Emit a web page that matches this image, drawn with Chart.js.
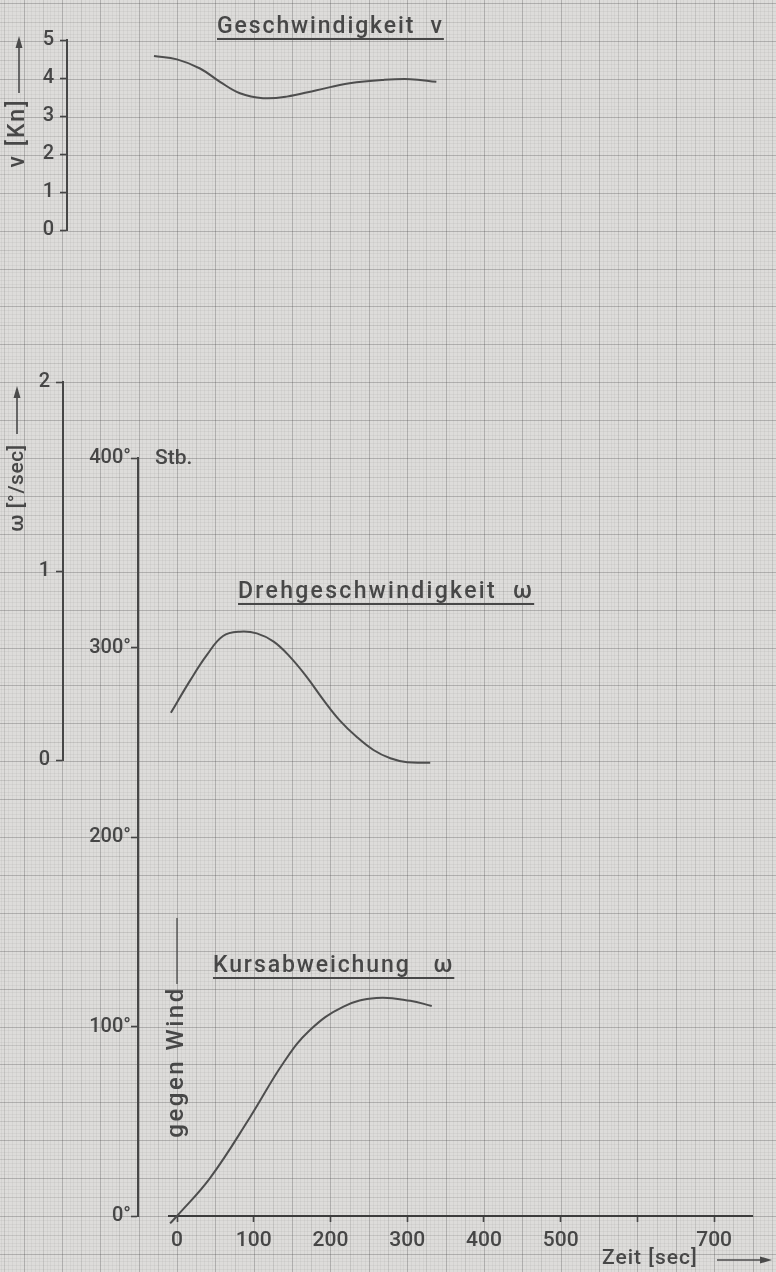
<!DOCTYPE html>
<html lang="de">
<head>
<meta charset="utf-8">
<title>Geschwindigkeit, Drehgeschwindigkeit, Kursabweichung</title>
<script src="https://cdn.jsdelivr.net/npm/chart.js@4.4.1/dist/chart.umd.min.js"></script>
<style>
	html, body { margin: 0; padding: 0; background: #dddcda; }
	#sheet { position: relative; width: 776px; height: 1272px; overflow: hidden; }
	#plot { position: absolute; left: 0; top: 0; }
	#marks { position: absolute; left: 0; top: 0; pointer-events: none; }
	.lbl {
		position: absolute;
		font-family: Roboto, "DejaVu Sans", sans-serif;
		font-weight: 500;
		color: #474747;
		white-space: nowrap;
		line-height: 1;
	}
	.title {
		font-size: 23px;
		letter-spacing: 1.6px;
		text-decoration: underline;
		text-decoration-thickness: 2px;
		text-underline-offset: 5px;
	}
	.rot { transform: translate(-50%, -50%) rotate(-90deg); }
</style>
</head>
<body>
<div id="sheet">
	<canvas id="plot" width="776" height="1272"></canvas>

	<svg id="marks" width="776" height="1272">
		<g stroke="#4a4a4a" stroke-width="1.6" fill="#4a4a4a">
			<line x1="19" y1="93" x2="19" y2="46" />
			<path d="M19 36 L15.5 48 L22.5 48 Z" stroke="none" />
			<line x1="17" y1="434" x2="17" y2="396" />
			<path d="M17 386 L13.5 398 L20.5 398 Z" stroke="none" />
			<line x1="717" y1="1260" x2="762" y2="1260" />
			<path d="M772 1260 L760 1256.5 L760 1263.5 Z" stroke="none" />
			<line x1="177" y1="918" x2="177" y2="984" stroke-width="1.3" />
		</g>
	</svg>

	<div class="lbl title" style="left:217px; top:14px; letter-spacing:1.9px;">Geschwindigkeit&nbsp; v</div>
	<div class="lbl title" style="left:238px; top:579px; letter-spacing:2.3px;">Drehgeschwindigkeit&nbsp; ω</div>
	<div class="lbl title" style="left:213px; top:953px; letter-spacing:1.9px;">Kursabweichung&nbsp;&nbsp; ω</div>

	<div class="lbl rot" style="left:16px; top:133px; font-size:23px; letter-spacing:2px;">v [Kn]</div>
	<div class="lbl rot" style="left:16px; top:488px; font-size:21px; letter-spacing:0.5px;">ω [°/sec]</div>
	<div class="lbl rot" style="left:175px; top:1062px; font-size:24px; letter-spacing:2.5px;">gegen Wind</div>

	<div class="lbl" style="left:155px; top:447px; font-size:21px;">Stb.</div>
	<div class="lbl" style="left:602px; top:1247px; font-size:21px; letter-spacing:1px;">Zeit [sec]</div>
</div>

<script>
"use strict";

// axis ticks
const timeTicks = [0, 100, 200, 300, 400, 500, 600, 700];
const speedTicks = [0, 1, 2, 3, 4, 5];
const turnTicks = [0, 1, 2];
const courseTicks = [0, 100, 200, 300, 400];

// Geschwindigkeit v [Kn]
const speedTime = [-30, 0, 30, 56, 82, 112, 143, 182, 225, 269, 304, 338];
const speedValues = [4.58, 4.49, 4.25, 3.9, 3.6, 3.47, 3.51, 3.68, 3.86, 3.95, 3.97, 3.9];

// Drehgeschwindigkeit ω [°/sec]
const turnTime = [-8, 17, 39, 60, 82, 104, 126, 147, 169, 191, 212, 234, 256, 278, 300, 330];
const turnValues = [0.25, 0.42, 0.556, 0.656, 0.679, 0.67, 0.626, 0.547, 0.44, 0.317, 0.21, 0.123, 0.053, 0.009, -0.012, -0.014];

// Kursabweichung ω [°]
const courseTime = [-9, 0, 43, 95, 139, 173, 217, 260, 304, 332];
const courseValues = [-3.9, 0, 20, 52, 81, 98, 110.5, 115, 113.6, 110.8];

const ink = "#464646";
const curveInk = "#4e4e4e";

const toPoints = (xs, ys) => xs.map((x, i) => ({ x: x, y: ys[i] }));

// where each value axis sits on the sheet (pixels)
const axisFrames = {
	yV: { x: 67, top: 40, bottom: 230 },
	yW: { x: 63, top: 382, bottom: 760 },
	yDeg: { x: 138, top: 458, bottom: null },
};

const placeAxes = {
	id: "placeAxes",
	afterLayout(chart) {
		for (const id in axisFrames) {
			const f = axisFrames[id];
			const s = chart.scales[id];
			s.left = 0;
			s.right = f.x;
			s.top = f.top;
			s.bottom = f.bottom === null ? chart.chartArea.bottom : f.bottom;
			s.width = f.x;
			s.height = s.bottom - s.top;
			s.configure();
		}
	},
};

// mm paper: 1 mm = 5 sec across, 2° down
const graphPaper = {
	id: "graphPaper",
	beforeDraw(chart) {
		const { ctx, width, height } = chart;
		const xs = chart.scales.x;
		const ys = chart.scales.yDeg;
		ctx.save();
		ctx.fillStyle = "#dddcda";
		ctx.fillRect(0, 0, width, height);
		ctx.lineWidth = 1;
		const shade = (k) =>
			k % 10 === 0 ? "rgba(60,60,60,0.28)" : k % 5 === 0 ? "rgba(60,60,60,0.15)" : "rgba(60,60,60,0.05)";
		for (let k = -48; k <= 158; k++) {
			const px = Math.round(xs.getPixelForValue(k * 5)) + 0.5;
			ctx.strokeStyle = shade(Math.abs(k));
			ctx.beginPath();
			ctx.moveTo(px, 0);
			ctx.lineTo(px, height);
			ctx.stroke();
		}
		for (let k = -16; k <= 322; k++) {
			const py = Math.round(ys.getPixelForValue(k * 2)) + 0.5;
			ctx.strokeStyle = shade(Math.abs(k));
			ctx.beginPath();
			ctx.moveTo(0, py);
			ctx.lineTo(width, py);
			ctx.stroke();
		}
		ctx.restore();
	},
};

const valueAxis = (ticks, fmt, padding) => ({
	type: "linear",
	position: "left",
	min: ticks[0],
	max: ticks[ticks.length - 1],
	afterFit: (s) => {
		s.width = 0;
	},
	afterBuildTicks: (s) => {
		s.ticks = ticks.map((v) => ({ value: v }));
	},
	grid: { drawOnChartArea: false, tickLength: 7, tickWidth: 1.6, tickColor: ink },
	border: { color: ink, width: 2 },
	ticks: {
		autoSkip: false,
		padding: padding,
		color: ink,
		font: { family: "Roboto", size: 20, weight: "500" },
		callback: fmt,
	},
});

const curve = (label, data, axis) => ({
	label: label,
	data: data,
	yAxisID: axis,
	borderColor: curveInk,
	borderWidth: 2,
	pointRadius: 0,
	fill: false,
	clip: false,
	tension: 0.4,
});

const ctx = document.getElementById("plot").getContext("2d");
const chart = new Chart(ctx, {
	type: "line",
	data: {
		datasets: [
			curve("Geschwindigkeit v", toPoints(speedTime, speedValues), "yV"),
			curve("Drehgeschwindigkeit ω", toPoints(turnTime, turnValues), "yW"),
			curve("Kursabweichung ω", toPoints(courseTime, courseValues), "yDeg"),
		],
	},
	options: {
		responsive: false,
		animation: false,
		devicePixelRatio: 1,
		layout: { padding: { left: 169.33, right: 23.5, top: 40, bottom: 16 } },
		plugins: { legend: { display: false }, tooltip: { enabled: false } },
		scales: {
			x: {
				type: "linear",
				min: -10,
				max: 750,
				afterFit: (s) => {
					s.height = 40;
				},
				afterBuildTicks: (s) => {
					s.ticks = timeTicks.map((v) => ({ value: v }));
				},
				grid: { drawOnChartArea: false, tickLength: 6, tickWidth: 1.6, tickColor: ink },
				border: { color: "#3c3c3c", width: 2 },
				ticks: {
					autoSkip: false,
					maxRotation: 0,
					padding: 6,
					color: ink,
					font: { family: "Roboto", size: 21, weight: "500" },
					callback: (v) => (v === 600 ? "" : v),
				},
			},
			yV: valueAxis(speedTicks, (v) => v, 6),
			yW: valueAxis(turnTicks, (v) => v, 6),
			yDeg: valueAxis(courseTicks, (v) => v + "°", 0),
		},
	},
	plugins: [placeAxes, graphPaper],
});
</script>
</body>
</html>
